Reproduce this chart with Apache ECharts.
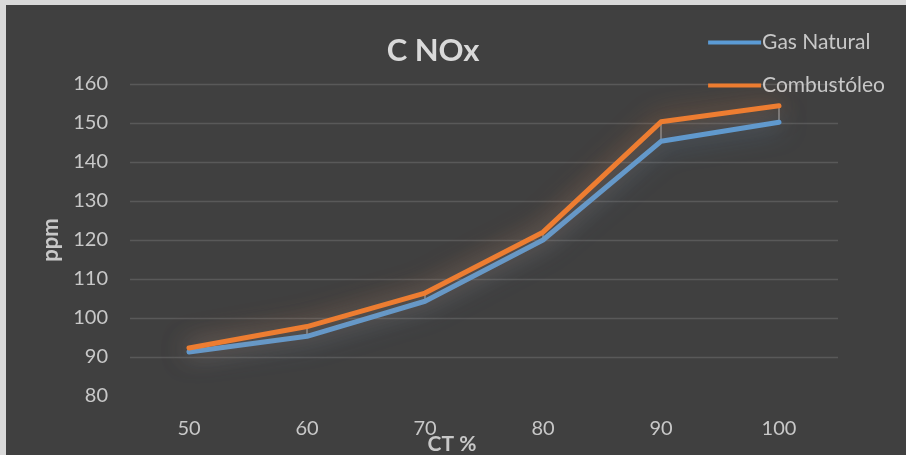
<!DOCTYPE html>
<html>
<head>
<meta charset="utf-8">
<script src="https://cdn.jsdelivr.net/npm/echarts@6/dist/echarts.min.js"></script>
<style>
html,body{margin:0;padding:0;background:#404040;}
#c{width:906px;height:455px;}
</style>
</head>
<body>
<div id="c"></div>
<script>
const categories = ['50','60','70','80','90','100'];
const gasNatural = [91.3, 95.3, 104.3, 120.0, 145.3, 150.2];
const combustoleo = [92.3, 97.8, 106.4, 122.0, 150.3, 154.4];
const yTicks = [80, 90, 100, 110, 120, 130, 140, 150, 160];

const chart = echarts.init(document.getElementById('c'), null, {renderer:'canvas'});
const font = 'Lato, "Open Sans", sans-serif';
const txt = '#c8c8c8';

chart.setOption({
  backgroundColor: '#404040',
  animation: false,
  graphic: [
    {type:'rect', left:0, top:0, shape:{width:6, height:455}, style:{fill:'#d9d9d9'}, z:100},
    {type:'rect', left:0, top:0, shape:{width:906, height:5}, style:{fill:'#d9d9d9'}, z:100}
  ],
  title: {
    text: 'C NOx',
    left: 428, top: 30, textAlign: 'center',
    textStyle: {color:'#d9d9d9', fontSize:31, fontWeight:'bold', fontFamily:font}
  },
  legend: {
    right: 16, top: 27, orient: 'vertical', itemGap: 22,
    itemWidth: 53, itemHeight: 4,
    icon: 'rect',
    textStyle: {color: txt, fontSize: 21, fontFamily: font, padding:[0,0,0,-4]},
    data: ['Gas Natural', 'Combustóleo']
  },
  grid: {left:130, right:68, top:84, bottom:59, containLabel:false, outerBoundsMode:'none'},
  xAxis: {
    type: 'category', data: categories, boundaryGap: true,
    name: 'CT %', nameLocation: 'middle', nameGap: 38, nameMoveOverlap: false,
    nameTextStyle: {color:txt, fontSize:21, fontWeight:'bold', fontFamily:font, padding:[0,64,0,0]},
    axisLine: {show:false}, axisTick: {show:false},
    axisLabel: {color: txt, fontSize:20, fontFamily:font, margin: 23}
  },
  yAxis: {
    type: 'value', min: 80, max: 160, interval: 10,
    name: 'ppm', nameLocation: 'middle', nameGap: 68, nameRotate: 90, nameMoveOverlap: false,
    nameTextStyle: {color:txt, fontSize:22, fontWeight:'bold', fontFamily:font},
    axisLine: {show:false}, axisTick: {show:false},
    axisLabel: {color: txt, fontSize:20, fontFamily:font, margin: 22,
      formatter: v => yTicks.includes(v) ? String(v) : ''},
    splitLine: {lineStyle:{color:'#595959', width:1.3}, showMinLine:false}
  },
  series: [
    {
      name: 'Gas Natural', type: 'line', data: gasNatural, symbol: 'none', z: 3,
      itemStyle: {color:'#5b9bd5'},
      lineStyle: {color:'#5b9bd5', width:5, shadowColor:'rgba(91,155,213,0.65)', shadowBlur:26, cap:'round', join:'round'}
    },
    {
      name: 'Combustóleo', type: 'line', data: combustoleo, symbol: 'none', z: 4,
      itemStyle: {color:'#ed7d31'},
      lineStyle: {color:'#ed7d31', width:5, shadowColor:'rgba(237,125,49,0.65)', shadowBlur:26, cap:'round', join:'round'}
    },
    {
      name: 'hilo', type: 'custom', z: 2, silent: true,
      data: categories.map((c, i) => [i, gasNatural[i], combustoleo[i]]),
      renderItem: function (params, api) {
        const lo = api.coord([api.value(0), api.value(1)]);
        const hi = api.coord([api.value(0), api.value(2)]);
        return {type:'line', shape:{x1:lo[0], y1:lo[1], x2:hi[0], y2:hi[1]},
          style:{stroke:'#8a8a8a', lineWidth:1.5}};
      },
      encode: {x:0, y:[1,2]}
    }
  ]
});
</script>
</body>
</html>
